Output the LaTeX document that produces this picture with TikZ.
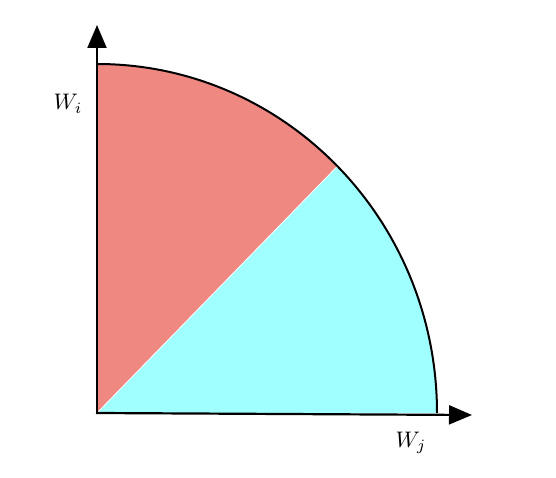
\documentclass[tikz,border=0pt]{standalone}
\usetikzlibrary{arrows.meta}
\definecolor{sred}{RGB}{240,136,130}
\definecolor{scyan}{RGB}{160,255,255}
\begin{document}
\begin{tikzpicture}[x=1pt,y=1pt,
  axis/.style={line width=2.2pt,-{Triangle[length=23pt,width=19pt]}},
  lbl/.style={inner sep=0pt}]
\useasboundingbox (0,0) rectangle (556,478);
\coordinate (O) at (97,65);
\coordinate (A) at (97,414);
\coordinate (B) at (437,65);
\coordinate (M) at ({97+340*cos(45)},{65+349*sin(45)});
\coordinate (Xt) at (472,63);
\coordinate (Yt) at (97,453);
\fill[sred] (O) -- (A) arc[start angle=90,end angle=45,x radius=340,y radius=349] -- cycle;
\fill[scyan] (O) -- (M) arc[start angle=45,end angle=0,x radius=340,y radius=349] -- cycle;
\draw[white,line width=0.8pt] (O) -- (M);
\draw[line width=2pt] (A) arc[start angle=90,end angle=0,x radius=340,y radius=349];
\draw[axis] ([yshift=-1pt]O) -- (Yt);
\draw[axis] ([xshift=-1pt]O) -- (Xt);
\node[lbl] (wi) at (68,374) {\scalebox{2.25}{$W_i$}};
\node[lbl] (wj) at (411,35) {\scalebox{2.25}{$W_j$}};
\end{tikzpicture}
\end{document}
